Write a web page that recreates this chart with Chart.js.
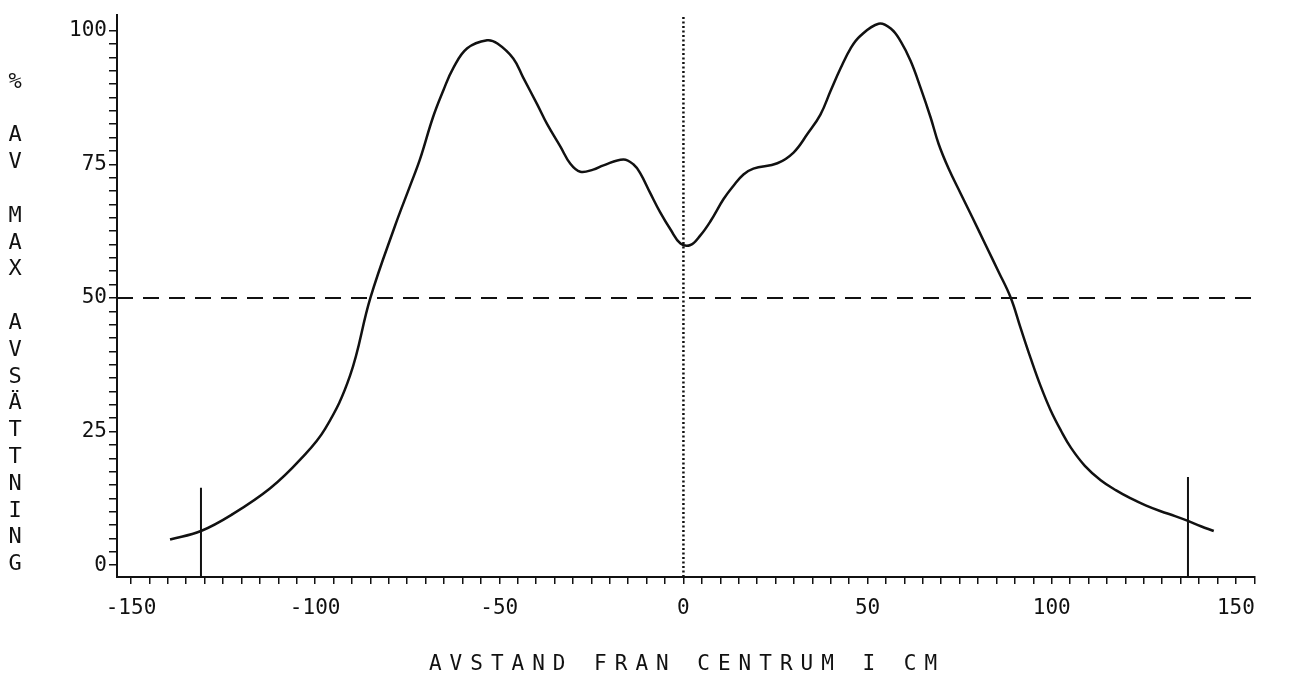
<!DOCTYPE html>
<html>
<head>
<meta charset="utf-8">
<title>Avsättning</title>
<script src="https://cdn.jsdelivr.net/npm/chart.js@4/dist/chart.umd.min.js"></script>
<style>
  html, body { margin: 0; padding: 0; background: #fff; }
  canvas { display: block; }
</style>
</head>
<body>
<canvas id="grafico" width="1295" height="684"></canvas>
<script>
// avstand fran centrum (cm) och % av max avsattning, avlast fran bilden
const avstand = [-139.4, -131, -122.3, -112.2, -104, -97.3, -90.5, -85, -78.3, -74.2, -71.5, -68, -65.2,
  -62.5, -58.7, -53.3, -50.5, -46.2, -43.5, -39.7, -37, -33.4, -30.7, -28, -24.5, -21.7, -16.3, -13.6,
  -11.7, -9, -6.3, -3.5, -0.8, 1.9, 4.6, 7.3, 10.9, 13.6, 16.3, 19, 25.5, 29.9, 33.7, 37.2, 40, 42.7,
  45.4, 48, 53, 56.3, 59, 61.7, 64.4, 67.1, 69.3, 72, 75.3, 78.5, 82, 85.5, 88.9, 91.5, 94.3, 97, 99.7,
  102.5, 105.2, 109, 113.3, 117.5, 121.5, 125.5, 129.6, 133.5, 137, 140.5, 144];
const avsattning = [4.8, 6.4, 9.6, 14.4, 19.8, 25.5, 35.5, 50, 63.5, 71, 76, 83.8, 88.8,
  93, 96.7, 98.2, 97.6, 94.8, 91.2, 86.2, 82.5, 78.3, 75.1, 73.6, 74, 74.8, 75.9, 75,
  73.3, 69.6, 66, 62.8, 60.2, 59.9, 61.7, 64.3, 68.5, 71, 73.1, 74.2, 75.2, 77.2, 80.7, 84.3, 88.8, 93,
  96.7, 99, 101.3, 100.4, 98, 94.3, 89.3, 83.8, 78.8, 74.2, 69.5, 65, 60, 55, 50, 44.5, 38.7, 33.5, 29,
  25.2, 22, 18.6, 15.9, 14, 12.5, 11.2, 10.1, 9.2, 8.3, 7.3, 6.4];

const halvNiva = 50;
const markeringX = [-131, 137];
const markeringTopp = [14.5, 16.5];

const xTickLabels = [-150, -100, -50, 0, 50, 100, 150];
const yTickLabels = [0, 25, 50, 75, 100];

const xMin = -153.8, xMax = 155.2;
const yMin = -2.2, yMax = 103;

const xTitel = 'AVSTAND FRAN CENTRUM I CM';
const yTitelOrd = ['%', 'AV', 'MAX', 'AVSÄTTNING'];

const typsnitt = '"DejaVu Sans Mono", "Liberation Mono", monospace';

// bokstaver for y-titeln, en per rad, tom rad mellan orden
const yTitelRader = [];
yTitelOrd.forEach((ord, i) => {
  if (i > 0) yTitelRader.push('');
  ord.split('').forEach(c => yTitelRader.push(c));
});

const titlar = {
  id: 'titlar',
  afterDraw(chart) {
    const ctx = chart.ctx;
    ctx.save();
    ctx.fillStyle = '#111';
    ctx.textAlign = 'center';
    ctx.textBaseline = 'middle';

    ctx.font = '22px ' + typsnitt;
    yTitelRader.forEach((c, i) => {
      if (c) ctx.fillText(c, 15, 82 + i * 26.8);
    });

    ctx.font = '21px ' + typsnitt;
    if ('letterSpacing' in ctx) ctx.letterSpacing = '8px';
    ctx.fillText(xTitel, 687, 665);
    ctx.restore();
  }
};

const linje = (pts, extra) => Object.assign({
  data: pts,
  borderColor: '#111',
  borderWidth: 2,
  pointRadius: 0,
  fill: false
}, extra);

const kurva = avstand.map((x, i) => ({ x: x, y: avsattning[i] }));

const datasets = [
  linje(kurva, { borderWidth: 2.5, tension: 0.4 }),
  linje([{ x: xMin, y: halvNiva }, { x: xMax, y: halvNiva }], { borderDash: [16, 10] }),
  linje([{ x: 0, y: yMin }, { x: 0, y: yMax }], { borderDash: [2, 2.5], borderWidth: 2.5 })
];
markeringX.forEach((x, i) => {
  datasets.push(linje([{ x: x, y: yMin }, { x: x, y: markeringTopp[i] }], { borderWidth: 2 }));
});

const ctx = document.getElementById('grafico').getContext('2d');
new Chart(ctx, {
  type: 'line',
  data: { datasets: datasets },
  options: {
    responsive: false,
    animation: false,
    layout: { padding: { top: 6, right: 40, left: 0, bottom: 0 } },
    plugins: {
      legend: { display: false },
      tooltip: { enabled: false }
    },
    scales: {
      x: {
        type: 'linear',
        min: xMin,
        max: xMax,
        border: { color: '#111', width: 2 },
        grid: { drawOnChartArea: false, drawTicks: true, tickLength: 7, color: '#111', lineWidth: 1.5 },
        afterBuildTicks: function(scale) {
          const t = [];
          for (let v = -150; v <= 155; v += 5) t.push({ value: v });
          scale.ticks = t;
        },
        afterFit: function(scale) { scale.height = 107; },
        ticks: {
          autoSkip: false,
          maxRotation: 0,
          padding: 12,
          color: '#111',
          font: { family: typsnitt, size: 21 },
          callback: v => xTickLabels.includes(v) ? String(v) : ''
        }
      },
      y: {
        type: 'linear',
        min: yMin,
        max: yMax,
        border: { color: '#111', width: 2 },
        grid: { drawOnChartArea: false, drawTicks: true, tickLength: 8, color: '#111', lineWidth: 1.5 },
        afterBuildTicks: function(scale) {
          const t = [];
          for (let v = 0; v <= 100; v += 2.5) t.push({ value: v });
          scale.ticks = t;
        },
        afterFit: function(scale) { scale.width = 117; },
        ticks: {
          autoSkip: false,
          padding: 2,
          color: '#111',
          font: { family: typsnitt, size: 21 },
          callback: v => yTickLabels.includes(v) ? String(v) : ''
        }
      }
    }
  },
  plugins: [titlar]
});
</script>
</body>
</html>
